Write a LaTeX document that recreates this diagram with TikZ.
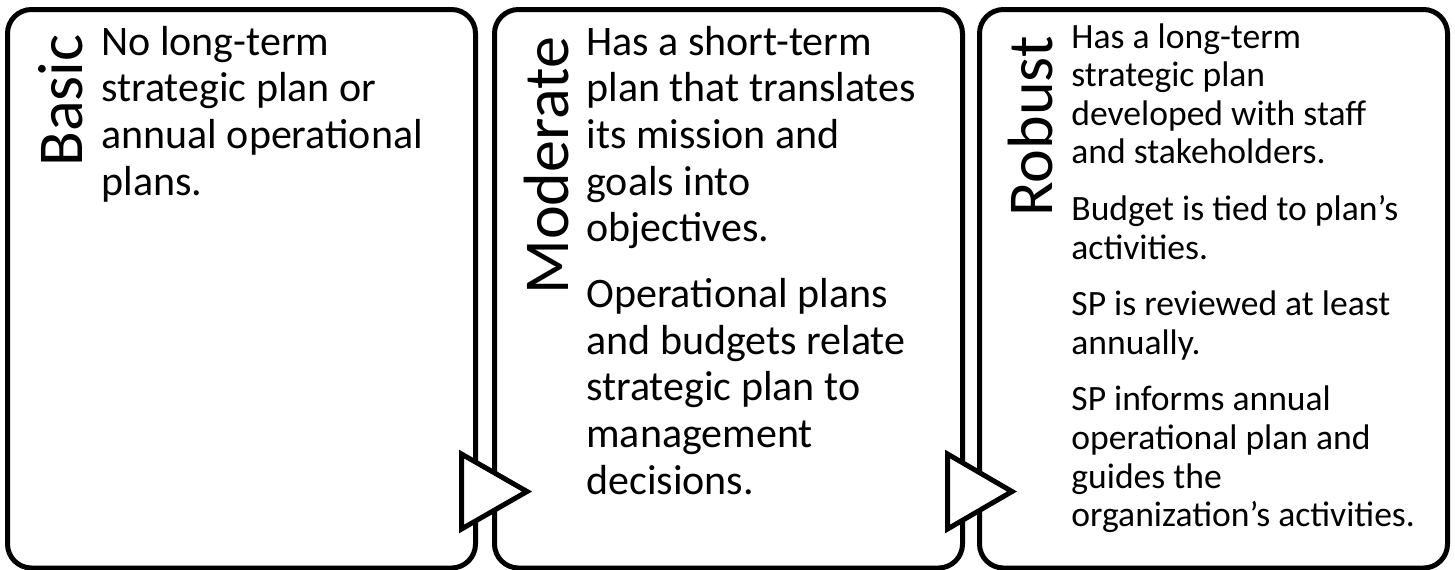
\documentclass[tikz,border=0pt]{standalone}
\usepackage{fontspec}
\setmainfont{Carlito}
\newcommand{\firstbase}[1]{\begin{tabular}[t]{@{}l@{}}#1\end{tabular}}
\begin{document}
\begin{tikzpicture}[x=0.5pt,y=-0.5pt,
  panel/.style={draw=black,line width=2.5pt,rounded corners=12pt,fill=white},
  chevron/.style={draw=black,line width=2.5pt,fill=white,line join=miter},
  title/.style={rotate=90,anchor=base west,inner sep=0pt,font=\fontsize{32}{38}\selectfont},
  bigbody/.style={anchor=base west,inner sep=0pt,font=\fontsize{21}{23.35}\selectfont},
  smallbody/.style={anchor=base west,inner sep=0pt,font=\fontsize{17.8}{19.3}\selectfont}]
\useasboundingbox (0,0) rectangle (1455,569);
% panels
\path[panel] (7.5,9.5) rectangle (475.5,568);
\path[panel] (494.5,9.5) rectangle (962.5,568);
\path[panel] (979.5,9.5) rectangle (1447.5,568);
% chevrons
\path[chevron] (461.5,454) -- (461.5,529) -- (527,491.5) -- cycle;
\path[chevron] (947.5,454) -- (947.5,529) -- (1012,491.5) -- cycle;
% titles
\node[title] (tbasic) at (82,167) {Basic};
\node[title] (tmod) at (568,295) {Moderate};
\node[title] (trob) at (1052,217) {Robust};
% bodies
\node[bigbody] (bbasic) at (101,55) {\firstbase{No long-term\\strategic plan or\\annual operational\\plans.}};
\node[bigbody] (bmod) at (586,55) {\firstbase{Has a short-term\\plan that translates\\its mission and\\goals into\\objectives.\\[9.5pt]Operational plans\\and budgets relate\\strategic plan to\\management\\decisions.}};
\node[smallbody] (brob) at (1071,48) {\firstbase{Has a long-term\\strategic plan\\developed with staff\\and stakeholders.\\[9pt]Budget is tied to plan’s\\activities.\\[9pt]SP is reviewed at least\\annually.\\[9pt]SP informs annual\\operational plan and\\guides the\\organization’s activities.}};
\end{tikzpicture}
\end{document}
